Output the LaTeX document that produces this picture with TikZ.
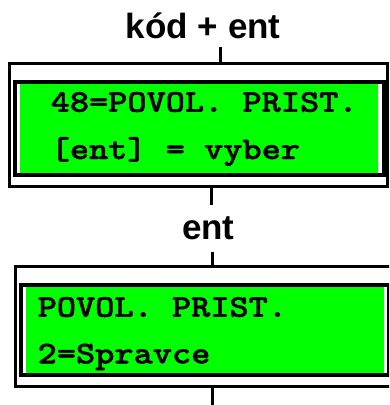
\documentclass[tikz,border=0pt]{standalone}
\usepackage{fontspec}
\setmainfont{Liberation Sans}
\newfontfamily\lcdfont{lmmonolt10-bold.otf}[FakeStretch=1.16,FakeBold=1.5]
\definecolor{lcdgreen}{HTML}{00FF00}
\begin{document}
\begin{tikzpicture}[x=1pt,y=-1pt,
  outerbox/.style={draw=black,line width=3pt,minimum width=#1,inner sep=0pt,outer sep=0pt},
  innerbox/.style={draw=black,line width=4pt,inner sep=0pt,outer sep=0pt},
  lcdfill/.style={fill=lcdgreen,draw=none,inner sep=0pt,outer sep=0pt},
  lcdtext/.style={font=\lcdfont\fontsize{31.5}{38}\selectfont,inner sep=0pt,anchor=base west},
  lbl/.style={font=\bfseries\fontsize{35}{42}\selectfont,inner sep=0pt,anchor=base},
  conn/.style={line width=3pt,draw=black}]
\useasboundingbox[fill=white] (0,0) rectangle (389,405);
\clip (0,0) rectangle (389,405);
% labels
\node[lbl] (l1) at (203.3,38.3) {kód + ent};
\node[lbl] (l2) at (208.3,239.5) {ent};
% box 1
\node[outerbox=377.5pt,minimum height=123pt] (b1) at (198.25,125) {};
\node[lcdfill,minimum width=358pt,minimum height=88.7pt] (g1) at (199,128.35) {};
\node[innerbox,minimum width=368.8pt,minimum height=92.7pt] (i1) at (199.1,128.35) {};
\node[lcdtext] (r11) at (50.5,111.7) {48=POVOL. PRIST.};
\node[lcdtext] (r12) at (50.5,159) {[ent] = vyber};
% box 2
\node[outerbox=377.5pt,minimum height=120pt] (b2) at (203.75,326.7) {};
\node[lcdfill,minimum width=358pt,minimum height=86pt] (g2) at (205,330.3) {};
\node[innerbox,minimum width=368.8pt,minimum height=90pt] (i2) at (204.9,330.3) {};
\node[lcdtext] (r21) at (37.5,316.7) {POVOL. PRIST.};
\node[lcdtext] (r22) at (37.5,363.3) {2=Spravce};
% connectors
\coordinate (c1) at (220,46.7);
\draw[conn] (c1) -- (c1 |- b1.north);
\coordinate (c2) at (211.3,205);
\draw[conn] (c2 |- b1.south) -- (c2);
\coordinate (c3) at (212.7,251.7);
\draw[conn] (c3) -- (c3 |- b2.north);
\coordinate (c4) at (212,405);
\draw[conn] (c4 |- b2.south) -- (c4);
\end{tikzpicture}
\end{document}
